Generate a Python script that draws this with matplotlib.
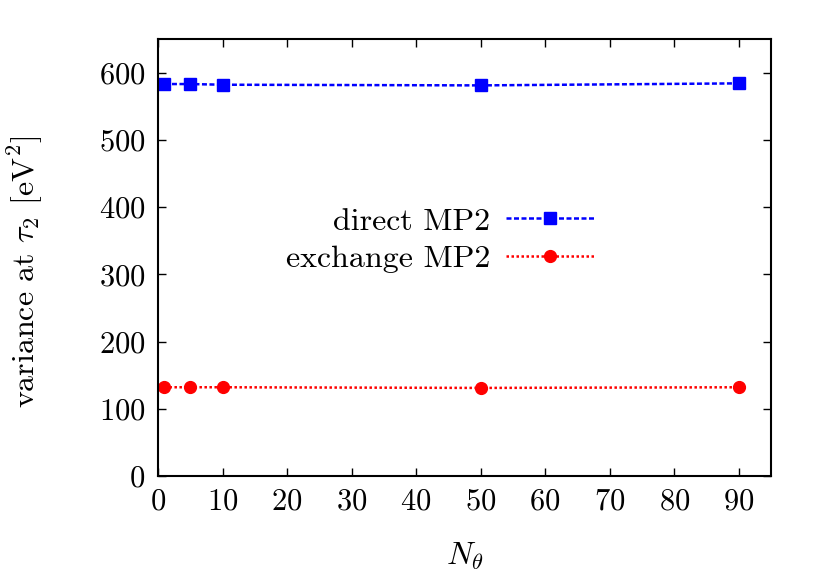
import matplotlib
matplotlib.use('Agg')
import matplotlib.pyplot as plt

plt.rcParams['font.family'] = 'cmr10'
plt.rcParams['mathtext.fontset'] = 'cm'
plt.rcParams['axes.unicode_minus'] = False
plt.rcParams['axes.formatter.use_mathtext'] = True

n_theta = [1, 5, 10, 50, 90]
direct_mp2 = [583, 583, 582, 581, 584]
exchange_mp2 = [132, 132, 132, 131, 132]

fig = plt.figure(figsize=(8.3, 5.81), dpi=100)
ax = fig.add_axes([158/830, 1 - 476/581, (771-158)/830, (476-39)/581])

ax.plot(n_theta, direct_mp2, color='#0000ff', linestyle=(0, (2, 1)), linewidth=1.8,
        marker='s', markersize=8, label='direct MP2')
ax.plot(n_theta, exchange_mp2, color='#ff0000', linestyle=(0, (1, 1)), linewidth=1.8,
        marker='o', markersize=8.5, label='exchange MP2')

ax.set_xlim(0, 95)
ax.set_ylim(0, 650)
ax.set_xticks(range(0, 91, 10))
ax.set_yticks(range(0, 601, 100))
ax.tick_params(direction='in', top=True, right=True, length=6, width=1, labelsize=22, pad=9)
for s in ax.spines.values():
    s.set_linewidth(1.5)

ax.set_xlabel(r'$N_\theta$', fontsize=23, labelpad=18)
ax.set_ylabel(r'variance at $\tau_2$ [eV$^2$]', fontsize=23)
ax.yaxis.set_label_coords(-0.184, 0.467)

ax.legend(loc='center', bbox_to_anchor=(0.460, 0.540), frameon=False, markerfirst=False,
          fontsize=23, handlelength=2.75, labelspacing=0.28, handletextpad=0.5)

fig.savefig('out.png', dpi=100)
